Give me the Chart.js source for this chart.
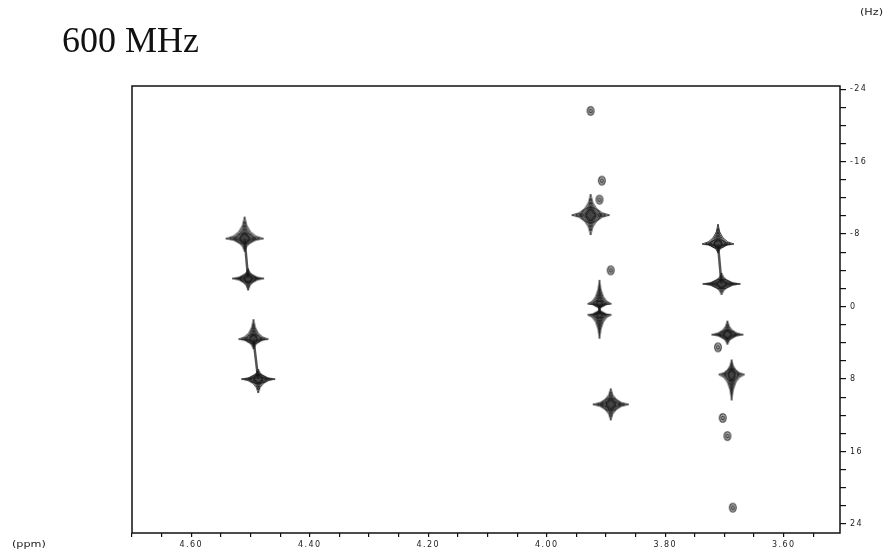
<!DOCTYPE html>
<html>
<head>
<meta charset="utf-8">
<script src="https://cdn.jsdelivr.net/npm/chart.js@4.4.1/dist/chart.umd.min.js"></script>
<style>
html, body { margin: 0; padding: 0; background: #fff; width: 888px; height: 553px; overflow: hidden; }
#wrap { position: relative; width: 888px; height: 553px; }
canvas { position: absolute; left: 0; top: 0; }
.t { position: absolute; white-space: nowrap; }
#title { left: 62px; top: 22px; font: 36px "Liberation Serif", serif; color: #111; line-height: 1; }
.unit { font: 8px "DejaVu Sans", sans-serif; color: #222; transform-origin: left top; transform: scaleX(1.4); line-height: 1; }
</style>
</head>
<body>
<div id="wrap">
  <canvas id="c" width="888" height="553"></canvas>
  <div id="title" class="t">600 MHz</div>
  <div class="t unit" style="left:860px;top:9px">(Hz)</div>
  <div class="t unit" style="left:12px;top:541px">(ppm)</div>
</div>
<script>
// J-resolved peaks: chemical shift (ppm) and J (Hz)
const strongPpm = [4.510, 4.504, 4.495, 4.487, 3.926, 3.911, 3.911, 3.892, 3.711, 3.705, 3.695, 3.688];
const strongHz  = [-7.5, -3.1, 3.6, 8.0, -10.1, -0.3, 0.9, 10.8, -6.9, -2.5, 3.1, 7.5];
const weakPpm   = [3.926, 3.907, 3.911, 3.892, 3.711, 3.703, 3.695, 3.686];
const weakHz    = [-21.6, -13.9, -11.8, -4.0, 4.5, 12.3, 14.3, 22.2];
// pairs of strong peaks joined by a ridge
const ridges = [[0, 1], [2, 3], [5, 6], [8, 9]];
const xTickLabels = [4.60, 4.40, 4.20, 4.00, 3.80, 3.60];
const yTickLabels = [-24, -16, -8, 0, 8, 16, 24];

// contour "star" look for each strong peak: [half width, arm up, arm down]
const starShape = [
  [19, 22, 13], [16, 10, 12], [15, 20, 10], [17, 10, 14],
  [19, 21, 20], [12, 24, 6], [12, 6, 24], [18, 16, 16],
  [16, 20, 9], [19, 11, 11], [16, 14, 10], [13, 15, 26]
];

function starPath(c, hw, up, dn, s, k) {
  c.beginPath();
  c.moveTo(0, -up * s);
  c.quadraticCurveTo(k * hw * s, -k * up * s, hw * s, 0);
  c.quadraticCurveTo(k * hw * s, k * dn * s, 0, dn * s);
  c.quadraticCurveTo(-k * hw * s, k * dn * s, -hw * s, 0);
  c.quadraticCurveTo(-k * hw * s, -k * up * s, 0, -up * s);
  c.closePath();
}

function makeStar(hw, up, dn) {
  const pad = 3;
  const half = Math.max(up, dn);
  const cv = document.createElement('canvas');
  cv.width = 2 * hw + 2 * pad;
  cv.height = 2 * half + 2 * pad;
  const c = cv.getContext('2d');
  c.filter = 'blur(0.5px)';
  c.translate(cv.width / 2, cv.height / 2);
  c.strokeStyle = 'rgba(20,20,20,0.95)';
  c.lineWidth = 0.9;
  [[1, 0.12], [0.8, 0.15], [0.62, 0.2], [0.45, 0.26], [0.3, 0.32]].forEach(([s, k]) => {
    starPath(c, hw, up, dn, s, k);
    c.fillStyle = 'rgba(50,50,50,0.2)';
    c.fill();
    c.stroke();
  });
  // small contour eyes around the centre
  const ry = Math.min(up, dn) * 0.3 + 1.5;
  c.beginPath();
  c.ellipse(0, 0, hw * 0.5, ry, 0, 0, Math.PI * 2);
  c.stroke();
  c.beginPath();
  c.ellipse(0, 0, hw * 0.25, ry * 0.8, 0, 0, Math.PI * 2);
  c.fillStyle = 'rgba(30,30,30,0.55)';
  c.fill();
  c.stroke();
  return cv;
}

function makeDot() {
  const cv = document.createElement('canvas');
  cv.width = 12; cv.height = 14;
  const c = cv.getContext('2d');
  c.filter = 'blur(0.4px)';
  c.translate(6, 7);
  c.strokeStyle = 'rgba(30,30,30,0.9)';
  c.lineWidth = 1.1;
  c.beginPath();
  c.ellipse(0, 0, 3.3, 4.3, 0, 0, Math.PI * 2);
  c.fillStyle = 'rgba(60,60,60,0.35)';
  c.fill();
  c.stroke();
  c.beginPath();
  c.ellipse(0, 0, 1.3, 2, 0, 0, Math.PI * 2);
  c.stroke();
  return cv;
}

const starSprites = starShape.map(s => makeStar(s[0], s[1], s[2]));
const dotSprite = makeDot();

const strongData = strongPpm.map((p, i) => ({ x: p, y: strongHz[i] }));
const weakData = weakPpm.map((p, i) => ({ x: p, y: weakHz[i] }));
const ridgeData = [];
ridges.forEach(([a, b]) => {
  ridgeData.push({ x: strongPpm[a], y: strongHz[a] });
  ridgeData.push({ x: strongPpm[b], y: strongHz[b] });
  ridgeData.push({ x: null, y: null });
});

const near = (v, list) => list.some(t => Math.abs(t - v) < 1e-6);

const frame = {
  id: 'frame',
  beforeDraw(chart) { chart.ctx.letterSpacing = '1.4px'; },
  afterDraw(chart) {
    const { ctx, chartArea: a } = chart;
    ctx.save();
    ctx.letterSpacing = '0px';
    ctx.strokeStyle = '#111';
    ctx.lineWidth = 1.5;
    ctx.strokeRect(a.left, a.top, a.right - a.left, a.bottom - a.top);
    ctx.restore();
  }
};

const tickFont = { family: 'DejaVu Sans', size: 8 };

new Chart(document.getElementById('c'), {
  type: 'scatter',
  data: {
    datasets: [
      {
        type: 'line', data: ridgeData, borderColor: 'rgba(40,40,40,0.8)', borderWidth: 2.5,
        pointRadius: 0, spanGaps: false, order: 3
      },
      {
        data: strongData, pointStyle: ctx => starSprites[ctx.dataIndex], pointRadius: 5, order: 1
      },
      {
        data: weakData, pointStyle: dotSprite, pointRadius: 4, order: 2
      }
    ]
  },
  options: {
    responsive: false,
    animation: false,
    events: [],
    layout: { padding: { left: 132, top: 86, right: 0, bottom: 0 } },
    plugins: { legend: { display: false }, tooltip: { enabled: false } },
    scales: {
      x: {
        type: 'linear', reverse: true, min: 3.505, max: 4.70,
        afterFit: s => { s.height = 20; },
        border: { display: false },
        grid: { drawOnChartArea: false, tickLength: 4, color: '#111', lineWidth: 1.2 },
        ticks: {
          stepSize: 0.05, autoSkip: false, includeBounds: false, maxRotation: 0,
          padding: 3, color: '#222', font: tickFont,
          callback: v => { const r = Math.round(v * 100) / 100; return near(r, xTickLabels) ? r.toFixed(2) : ''; }
        }
      },
      y: {
        type: 'linear', position: 'right', reverse: true, min: -24.35, max: 25,
        afterFit: s => { s.width = 48; },
        border: { display: false },
        grid: { drawOnChartArea: false, tickLength: 6, color: '#111', lineWidth: 1.2 },
        ticks: {
          stepSize: 2, autoSkip: false, includeBounds: false,
          padding: 4, color: '#222', font: tickFont,
          callback: v => { const r = Math.round(v); return near(r, yTickLabels) ? String(r) : ''; }
        }
      }
    }
  },
  plugins: [frame]
});
</script>
</body>
</html>
